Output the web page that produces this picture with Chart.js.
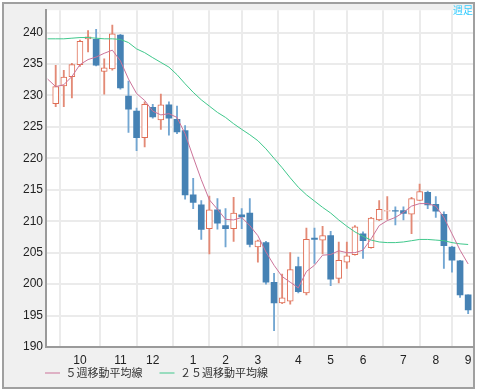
<!DOCTYPE html>
<html><head><meta charset="utf-8">
<script src="https://cdn.jsdelivr.net/npm/chart.js@4"></script>
<style>
html,body{margin:0;padding:0;background:#fff;}
#wrap{position:relative;width:478px;height:391px;}
#badge{position:absolute;right:5px;top:4px;font:10px 'Noto Sans CJK JP',sans-serif;color:#33ccff;line-height:12px;}
</style></head><body>
<div id="wrap"><canvas id="c" width="478" height="391"></canvas><div id="badge">週足</div></div>
<script>
// ---- data (weekly candles, index 0..51) ----
const monthTickWeeks  = [3, 8, 12, 17, 21, 25, 30, 34, 38, 43, 47, 51];
const monthTickLabels = ['10','11','12','1','2','3','4','5','6','7','8','9'];
const yTickValues = [190,195,200,205,210,215,220,225,230,235,240];
const seriesNames = ['５週移動平均線', '２５週移動平均線'];

const open  = [228.7,231.5,233.0,234.9,239.0,238.9,233.8,234.2,239.6,229.9,227.5,223.3,228.1,226.1,228.5,226.2,224.4,214.2,212.6,208.8,211.8,209.3,208.8,211.0,211.3,205.9,206.6,200.3,197.0,197.3,202.8,198.6,207.3,207.0,207.7,200.9,203.5,204.7,208.0,205.8,210.2,211.6,211.7,211.7,211.1,213.3,214.6,212.7,211.1,205.9,203.7,198.3];
const high  = [234.8,234.0,235.1,238.8,240.3,240.5,235.8,241.2,239.7,232.3,228.0,229.0,228.6,230.2,229.0,228.3,225.2,216.8,213.3,214.0,213.6,212.0,213.8,212.0,213.6,207.0,206.8,201.7,201.6,205.0,204.3,208.9,208.9,209.2,208.4,206.7,206.7,209.3,208.3,210.6,213.3,213.9,212.3,212.3,213.8,215.9,214.8,213.9,211.5,206.0,203.8,198.3];
const low   = [228.2,228.2,229.6,234.6,236.9,234.7,230.2,234.0,231.0,224.1,221.2,221.8,226.4,224.6,223.7,223.9,213.5,212.0,207.1,204.8,208.75,205.9,206.8,208.8,205.9,203.5,200.0,192.6,196.9,196.8,198.6,198.3,203.3,204.8,199.75,200.2,202.5,204.6,204.1,205.7,210.1,210.3,209.4,210.2,208.0,213.3,212.0,210.6,202.5,201.9,197.9,195.3];
const close = [231.4,232.9,234.9,238.6,239.3,234.8,234.4,239.8,231.2,227.8,223.3,228.6,226.6,228.5,226.4,224.2,214.2,213.0,208.7,211.8,209.7,208.8,211.3,210.7,206.3,206.9,200.3,197.0,197.8,202.3,198.8,207.1,207.1,207.7,200.8,203.8,204.5,209.1,206.9,210.5,211.9,211.7,211.6,211.25,213.6,214.7,212.6,211.6,206.1,203.8,198.3,195.9];
// moving averages, first value is week -1 (just left of the plot)
const ma5  = [232.6,231.4,231.7,233.0,234.9,235.7,236.1,236.7,237.2,235.5,232.6,230.3,229.2,227.5,226.9,227.1,226.5,223.9,220.2,216.6,213.4,211.9,210.3,210.2,210.6,209.3,207.7,205.1,203.0,201.2,200.3,199.4,202.0,203.0,204.6,204.7,205.3,205.0,205.0,205.4,207.2,209.3,210.1,210.6,211.4,212.4,212.8,212.8,212.4,210.6,208.0,205.4,203.2];
const ma25 = [239.0,239.0,239.0,239.1,239.2,239.2,239.1,239.0,239.0,238.9,238.4,237.4,236.8,236.0,235.25,234.5,233.3,231.85,230.5,229.3,228.3,227.3,226.5,225.5,224.6,223.75,222.8,221.5,220.0,218.5,216.9,215.4,214.2,213.2,212.2,211.3,210.2,209.2,208.3,207.6,207.0,206.7,206.6,206.6,206.7,206.9,207.1,207.1,207.0,206.9,206.6,206.4,206.3];

// ---- build library tables ----
const upW = [], dnW = [], upB = [], dnB = [];
open.forEach((o, i) => {
  const c = close[i];
  if (c >= o) { upW.push({x:i, y:[low[i], high[i]]}); upB.push({x:i, y:[o, c]}); }
  else        { dnW.push({x:i, y:[low[i], high[i]]}); dnB.push({x:i, y:[c, o]}); }
});
const ma5Pts  = ma5.map((v, k) => ({x: k - 1, y: v}));
const ma25Pts = ma25.map((v, k) => ({x: k - 1, y: v}));

const UP = '#e06e55', DN = '#4682b4';

const framePlugin = {
  id: 'frame',
  beforeDraw(chart) {
    const {ctx, chartArea: a} = chart;
    ctx.save();
    ctx.fillStyle = '#fff'; ctx.fillRect(0, 0, chart.width, chart.height);
    ctx.fillStyle = '#f0f0f0'; ctx.fillRect(3, 3, 471, 385);
    ctx.strokeStyle = '#a0a0a0'; ctx.lineWidth = 2; ctx.strokeRect(3, 3, 471, 385);
    ctx.fillStyle = '#fff'; ctx.fillRect(a.left, a.top, a.right - a.left, a.bottom - a.top);
    ctx.restore();
  },
  afterLayout(chart) {
    const lg = chart.legend;
    if (lg) {
      const dx = 28 - lg.left, dy = 350.5 - lg.top;
      lg.left += dx; lg.right += dx; lg.top += dy; lg.bottom += dy;
    }
  }
};

const barCommon = {type: 'bar', grouped: false, borderSkipped: false};

new Chart(document.getElementById('c'), {
  type: 'bar',
  data: {
    datasets: [
      {type:'line', label: seriesNames[0], data: ma5Pts, borderColor: '#cc7399', backgroundColor: '#cc7399', borderWidth: 1, pointRadius: 0, tension: 0, order: 0},
      {type:'line', label: seriesNames[1], data: ma25Pts, borderColor: '#40c88c', backgroundColor: '#40c88c', borderWidth: 1, pointRadius: 0, tension: 0, order: 0},
      Object.assign({label:'upBody', data: upB, backgroundColor: '#ffffff', borderColor: UP, borderWidth: 1, barThickness: 6, order: 1}, barCommon),
      Object.assign({label:'dnBody', data: dnB, backgroundColor: DN, borderColor: DN, borderWidth: 0, barThickness: 6, order: 1}, barCommon),
      Object.assign({label:'upWick', data: upW, backgroundColor: '#e38a76', borderWidth: 0, barThickness: 1.2, order: 2}, barCommon),
      Object.assign({label:'dnWick', data: dnW, backgroundColor: '#72a6d2', borderWidth: 0, barThickness: 1.2, order: 2}, barCommon)
    ]
  },
  options: {
    responsive: false, animation: false, devicePixelRatio: 1,
    layout: {padding: {left: 0, top: 4, right: 5, bottom: -14}},
    scales: {
      x: {
        type: 'linear', min: -1.2, max: 51.6, offset: false,
        afterBuildTicks: s => { s.ticks = monthTickWeeks.map(v => ({value: v})); },
        afterFit: s => { s.height = 20; },
        ticks: {
          autoSkip: false, maxRotation: 0, padding: 6, color: '#222',
          font: {family: "'Liberation Sans', Arial, sans-serif", size: 12},
          callback: v => monthTickLabels[monthTickWeeks.indexOf(v)]
        },
        grid: {color: '#ebebeb', lineWidth: 2, drawTicks: false},
        border: {color: '#9a9a9a', width: 2}
      },
      y: {
        type: 'linear', min: 190, max: 243.55,
        afterBuildTicks: s => { s.ticks = yTickValues.map(v => ({value: v})); },
        afterFit: s => { s.width = 46; },
        ticks: {
          padding: 3, color: '#222',
          font: {family: "'Liberation Sans', Arial, sans-serif", size: 12}
        },
        grid: {color: '#ebebeb', lineWidth: 2, drawTicks: false},
        border: {color: '#9a9a9a', width: 2}
      }
    },
    plugins: {
      tooltip: {enabled: false},
      legend: {
        position: 'bottom', align: 'start', fullSize: false,
        labels: {
          usePointStyle: true, pointStyle: 'line', pointStyleWidth: 15, padding: 17,
          color: '#333', font: {family: "'Noto Sans CJK JP', sans-serif", size: 11},
          filter: item => seriesNames.includes(item.text)
        }
      }
    }
  },
  plugins: [framePlugin]
});
</script>
</body></html>
